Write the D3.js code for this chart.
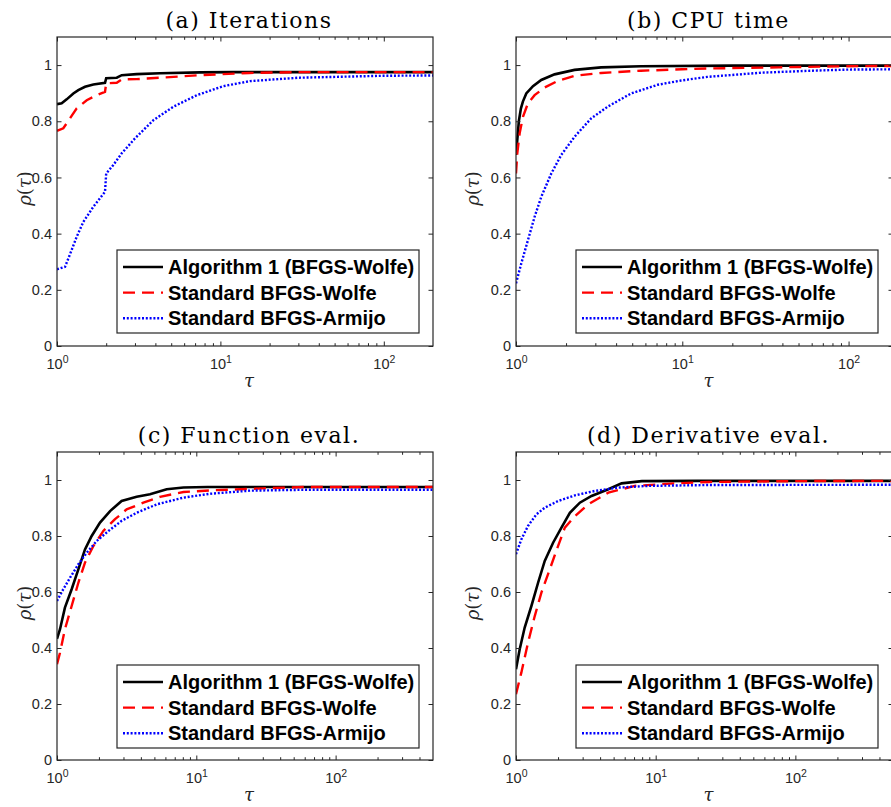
<!DOCTYPE html>
<html>
<head>
<meta charset="utf-8">
<script src="https://cdn.jsdelivr.net/npm/d3@7"></script>
<style>
    body { margin: 0; background: #fff; }
    svg { display: block; }
</style>
</head>
<body>
<div id="chart"></div>
<script>
// performance profiles, values as [tau, rho] pairs
const seriesNames = ["Algorithm 1 (BFGS-Wolfe)", "Standard BFGS-Wolfe", "Standard BFGS-Armijo"];
const panelTitles = ["(a) Iterations", "(b) CPU time", "(c) Function eval.", "(d) Derivative eval."];
const tauMax = [200, 185, 500, 500];
const yTicks = [0, 0.2, 0.4, 0.6, 0.8, 1];
const xTicks = [1, 10, 100];

const iterAlg1 = [[1, 0.861], [1.068, 0.864], [1.146, 0.878], [1.259, 0.899], [1.35, 0.911], [1.484, 0.923], [1.669, 0.931], [1.967, 0.937], [2, 0.953], [2.32, 0.955], [2.49, 0.964], [3.07, 0.968], [4.27, 0.971], [7.5, 0.974], [12, 0.975], [200, 0.975]];
const iterWolfe = [[1, 0.766], [1.093, 0.775], [1.2, 0.81], [1.32, 0.846], [1.52, 0.875], [1.75, 0.893], [1.967, 0.905], [2, 0.935], [2.32, 0.937], [2.49, 0.949], [3.07, 0.95], [4.27, 0.955], [7.5, 0.964], [15, 0.972], [30, 0.975], [200, 0.975]];
const iterArmijo = [[1, 0.273], [1.12, 0.282], [1.23, 0.342], [1.32, 0.389], [1.45, 0.442], [1.67, 0.496], [1.967, 0.549], [2, 0.614], [2.21, 0.644], [2.49, 0.686], [3, 0.739], [3.89, 0.804], [5.16, 0.852], [7.18, 0.893], [10.4, 0.925], [15.2, 0.943], [30, 0.955], [100, 0.962], [200, 0.963]];

const cpuAlg1 = [[1, 0.68], [1.02, 0.74], [1.04, 0.8], [1.07, 0.845], [1.1, 0.87], [1.153, 0.899], [1.265, 0.925], [1.419, 0.947], [1.706, 0.967], [2.25, 0.983], [3.25, 0.992], [5.64, 0.996], [20, 0.998], [185, 0.998]];
const cpuWolfe = [[1, 0.614], [1.018, 0.686], [1.052, 0.757], [1.101, 0.816], [1.18, 0.864], [1.294, 0.893], [1.486, 0.92], [1.786, 0.944], [2.25, 0.962], [3.25, 0.972], [5.64, 0.98], [10, 0.985], [14.1, 0.988], [38, 0.992], [100, 0.996], [185, 0.997]];
const cpuArmijo = [[1, 0.223], [1.076, 0.294], [1.18, 0.377], [1.294, 0.46], [1.419, 0.531], [1.63, 0.614], [1.87, 0.68], [2.25, 0.745], [2.83, 0.81], [3.56, 0.852], [4.92, 0.899], [7.12, 0.93], [9.83, 0.945], [14.1, 0.958], [30, 0.973], [60, 0.98], [100, 0.984], [185, 0.985]];

const funcAlg1 = [[1, 0.433], [1.051, 0.467], [1.14, 0.544], [1.274, 0.61], [1.423, 0.681], [1.588, 0.752], [1.774, 0.8], [2.036, 0.848], [2.404, 0.889], [2.91, 0.925], [3.73, 0.94], [4.65, 0.949], [6.13, 0.967], [8.08, 0.973], [12, 0.975], [500, 0.975]];
const funcWolfe = [[1, 0.342], [1.051, 0.383], [1.14, 0.467], [1.274, 0.55], [1.423, 0.633], [1.588, 0.705], [1.824, 0.764], [2.15, 0.818], [2.61, 0.86], [3.16, 0.895], [4.17, 0.919], [5.49, 0.94], [8.08, 0.957], [12.6, 0.963], [30, 0.97], [60, 0.975], [500, 0.975]];
const funcArmijo = [[1, 0.568], [1.11, 0.61], [1.24, 0.651], [1.423, 0.699], [1.633, 0.74], [1.927, 0.782], [2.34, 0.818], [2.91, 0.854], [3.73, 0.883], [5.2, 0.913], [8.08, 0.937], [12.6, 0.951], [24.4, 0.962], [60, 0.965], [500, 0.965]];

const derivAlg1 = [[1, 0.324], [1.062, 0.395], [1.154, 0.473], [1.289, 0.55], [1.439, 0.633], [1.606, 0.711], [1.843, 0.776], [2.115, 0.83], [2.43, 0.883], [2.865, 0.919], [3.475, 0.943], [4.58, 0.967], [5.7, 0.988], [7.96, 0.996], [20, 0.997], [500, 0.997]];
const derivWolfe = [[1, 0.235], [1.092, 0.312], [1.219, 0.419], [1.362, 0.514], [1.52, 0.598], [1.745, 0.681], [2, 0.764], [2.237, 0.83], [2.64, 0.871], [3.29, 0.913], [4.58, 0.955], [7.1, 0.979], [13.8, 0.988], [23.9, 0.993], [100, 0.996], [500, 0.997]];
const derivArmijo = [[1, 0.735], [1.092, 0.788], [1.219, 0.836], [1.399, 0.877], [1.606, 0.901], [2, 0.925], [2.64, 0.945], [3.67, 0.961], [5.41, 0.973], [8.87, 0.979], [23.9, 0.982], [500, 0.983]];

const panelSeries = [
    [iterAlg1, iterWolfe, iterArmijo],
    [cpuAlg1, cpuWolfe, cpuArmijo],
    [funcAlg1, funcWolfe, funcArmijo],
    [derivAlg1, derivWolfe, derivArmijo]
];

const boxes = [
    { x: 57, y: 37, w: 376, h: 309, labelX: -26 },
    { x: 516, y: 37, w: 377, h: 309, labelX: -37 },
    { x: 57, y: 452, w: 376, h: 308, labelX: -26 },
    { x: 516, y: 452, w: 377, h: 308, labelX: -37 }
];

const lineStyles = [
    { color: "#000000", dash: null, width: 2.6 },
    { color: "#ff0000", dash: "12,7", width: 2.4 },
    { color: "#0000ff", dash: "2,1.8", width: 2.4 }
];

const axisColor = "#262626";
const sans = "'Liberation Sans', Arial, Helvetica, sans-serif";
const serif = "'DejaVu Serif', 'Liberation Serif', serif";

const svg = d3.select("#chart")
    .append("svg")
    .attr("width", 891)
    .attr("height", 807);

svg.append("rect")
    .attr("width", 891)
    .attr("height", 807)
    .attr("fill", "#ffffff");

panelSeries.forEach(function(series, i) {
    const b = boxes[i];
    const g = svg.append("g")
        .attr("transform", "translate(" + b.x + "," + b.y + ")");

    const xScale = d3.scaleLog()
        .domain([1, tauMax[i]])
        .range([0, b.w]);

    const yScale = d3.scaleLinear()
        .domain([0, 1.1])
        .range([b.h, 0]);

    const minorTicks = [];
    xTicks.forEach(function(d) {
        for (let m = 2; m <= 9; m++) {
            if (d * m < tauMax[i]) minorTicks.push(d * m);
        }
    });

    g.append("clipPath")
        .attr("id", "clip" + i)
        .append("rect")
        .attr("width", b.w)
        .attr("height", b.h);

    const line = d3.line()
        .x(d => xScale(d[0]))
        .y(d => yScale(d[1]));

    series.forEach(function(s, k) {
        g.append("path")
            .attr("d", line(s))
            .attr("fill", "none")
            .attr("stroke", lineStyles[k].color)
            .attr("stroke-width", lineStyles[k].width)
            .attr("stroke-dasharray", lineStyles[k].dash)
            .attr("clip-path", "url(#clip" + i + ")");
    });

    // bottom axis with 10^k labels
    const xAxis = g.append("g")
        .attr("transform", "translate(0," + b.h + ")")
        .call(d3.axisBottom(xScale).tickValues(xTicks).tickSize(-4.5).tickSizeOuter(0).tickPadding(13).tickFormat(""));
    xAxis.selectAll(".tick text")
        .text("10")
        .append("tspan")
        .attr("dy", "-0.6em")
        .attr("font-size", "10.5px")
        .text(d => Math.round(Math.log10(d)));

    g.append("g")
        .attr("transform", "translate(0," + b.h + ")")
        .call(d3.axisBottom(xScale).tickValues(minorTicks).tickSize(-2.8).tickSizeOuter(0).tickFormat(""));

    g.append("g")
        .call(d3.axisTop(xScale).tickValues(xTicks).tickSize(-4.5).tickSizeOuter(0).tickFormat(""));
    g.append("g")
        .call(d3.axisTop(xScale).tickValues(minorTicks).tickSize(-2.8).tickSizeOuter(0).tickFormat(""));

    g.append("g")
        .call(d3.axisLeft(yScale).tickValues(yTicks).tickSize(-4.5).tickSizeOuter(0).tickPadding(5).tickFormat(d3.format("~g")));
    g.append("g")
        .attr("transform", "translate(" + b.w + ",0)")
        .call(d3.axisRight(yScale).tickValues(yTicks).tickSize(-4.5).tickSizeOuter(0).tickFormat(""));

    g.selectAll(".domain").remove();
    g.selectAll(".tick line").attr("stroke", axisColor);
    g.selectAll(".tick text")
        .attr("fill", axisColor)
        .style("font-family", sans)
        .style("font-size", "14.5px");

    g.append("rect")
        .attr("width", b.w)
        .attr("height", b.h)
        .attr("fill", "none")
        .attr("stroke", axisColor)
        .attr("stroke-width", 1.2);

    // title
    g.append("text")
        .attr("x", b.w / 2 + 4)
        .attr("y", -9.5)
        .attr("text-anchor", "middle")
        .style("font-family", serif)
        .style("font-size", "22px")
        .style("letter-spacing", "1.5px")
        .attr("fill", "#000")
        .text(panelTitles[i]);

    // axis labels
    const yLab = g.append("text")
        .attr("transform", "translate(" + b.labelX + "," + (b.h / 2 - 3) + ") rotate(-90)")
        .attr("text-anchor", "middle")
        .style("font-family", serif)
        .style("font-size", "18px")
        .attr("fill", axisColor);
    yLab.append("tspan").style("font-style", "italic").text("ρ");
    yLab.append("tspan").text("(");
    yLab.append("tspan").style("font-style", "italic").text("τ");
    yLab.append("tspan").text(")");

    g.append("text")
        .attr("x", b.w / 2 + 4)
        .attr("y", b.h + 41)
        .attr("text-anchor", "middle")
        .style("font-family", serif)
        .style("font-style", "italic")
        .style("font-size", "18px")
        .attr("fill", axisColor)
        .text("τ");

    // legend
    const legend = g.append("g")
        .attr("transform", "translate(60,213)");
    legend.append("rect")
        .attr("width", 302)
        .attr("height", 83)
        .attr("fill", "#ffffff")
        .attr("stroke", axisColor)
        .attr("stroke-width", 1.2);

    seriesNames.forEach(function(name, k) {
        const rowY = 17 + k * 25.6;
        legend.append("line")
            .attr("x1", 6)
            .attr("x2", 46)
            .attr("y1", rowY)
            .attr("y2", rowY)
            .attr("stroke", lineStyles[k].color)
            .attr("stroke-width", lineStyles[k].width)
            .attr("stroke-dasharray", lineStyles[k].dash);
        legend.append("text")
            .attr("x", 51)
            .attr("y", rowY + 7)
            .style("font-family", sans)
            .style("font-weight", "bold")
            .style("font-size", "20px")
            .attr("fill", "#000")
            .text(name);
    });
});
</script>
</body>
</html>
